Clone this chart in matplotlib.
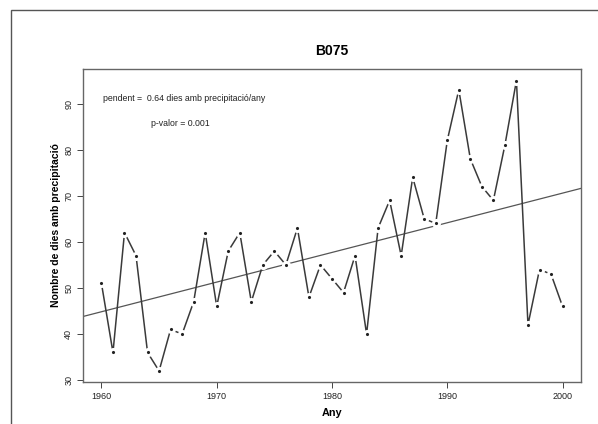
import numpy as np
import matplotlib
matplotlib.use("Agg")
import matplotlib.pyplot as plt
from matplotlib.patches import Rectangle

plt.rcParams["font.family"] = ["Liberation Sans", "DejaVu Sans"]

# dies amb precipitacio per any, estacio B075
years = list(range(1960, 2001))
dies = [51, 36, 62, 57, 36, 32, 41, 40, 47, 62,
        46, 58, 62, 47, 55, 58, 55, 63, 48, 55,
        52, 49, 57, 40, 63, 69, 57, 74, 65, 64,
        82, 93, 78, 72, 69, 81, 95, 42, 54, 53,
        46]
x_ticks = [1960, 1970, 1980, 1990, 2000]
y_ticks = [30, 40, 50, 60, 70, 80, 90]

slope, intercept = np.polyfit(years, dies, 1)

fig = plt.figure(figsize=(5.98, 4.24), dpi=100)
# outer frame of the original page
fig.patches.append(Rectangle((11 / 598, -0.1), 1.2, 1 - 10 / 424 + 0.1,
                             transform=fig.transFigure, fill=False,
                             edgecolor="#555555", linewidth=1.0))
ax = fig.add_axes([83 / 598, 1 - 382 / 424, 498 / 598, 313 / 424])

ax.plot(years, dies, color="#3a3a3a", linewidth=1.1, zorder=2)
# type="b": points with a small gap in the line around them
ax.plot(years, dies, linestyle="none", marker="o", markersize=4.4,
        markerfacecolor="#222222", markeredgecolor="white",
        markeredgewidth=2.1, zorder=3)
ax.axline((1980, intercept + slope * 1980), slope=slope,
          color="#555555", linewidth=0.9, zorder=1)

ax.set_xlim(1958.4, 2001.6)
ax.set_ylim(29.6, 97.5)
ax.set_xticks(x_ticks)
ax.set_yticks(y_ticks)
ax.tick_params(axis="both", labelsize=6.5, length=4, width=0.7,
               color="#444444", labelcolor="#222222", pad=3)
for lab in ax.get_yticklabels():
    lab.set_rotation(90)
    lab.set_va("center")
for s in ax.spines.values():
    s.set_color("#666666")
    s.set_linewidth(1.0)

ax.set_title("B075", fontsize=10, fontweight="bold", pad=10)
ax.set_xlabel("Any", fontsize=7.8, fontweight="bold", labelpad=5)
ax.set_ylabel("Nombre de dies amb precipitació", fontsize=7.5,
              fontweight="bold", labelpad=2)

ax.text(1960.1, 91.0, f"pendent =  {slope:.2f} dies amb precipitació/any",
        fontsize=6.3, color="#222222", va="center")
ax.text(1964.3, 85.7, "p-valor = 0.001", fontsize=6.3, color="#222222",
        va="center")

fig.savefig("out.png", dpi=100)
